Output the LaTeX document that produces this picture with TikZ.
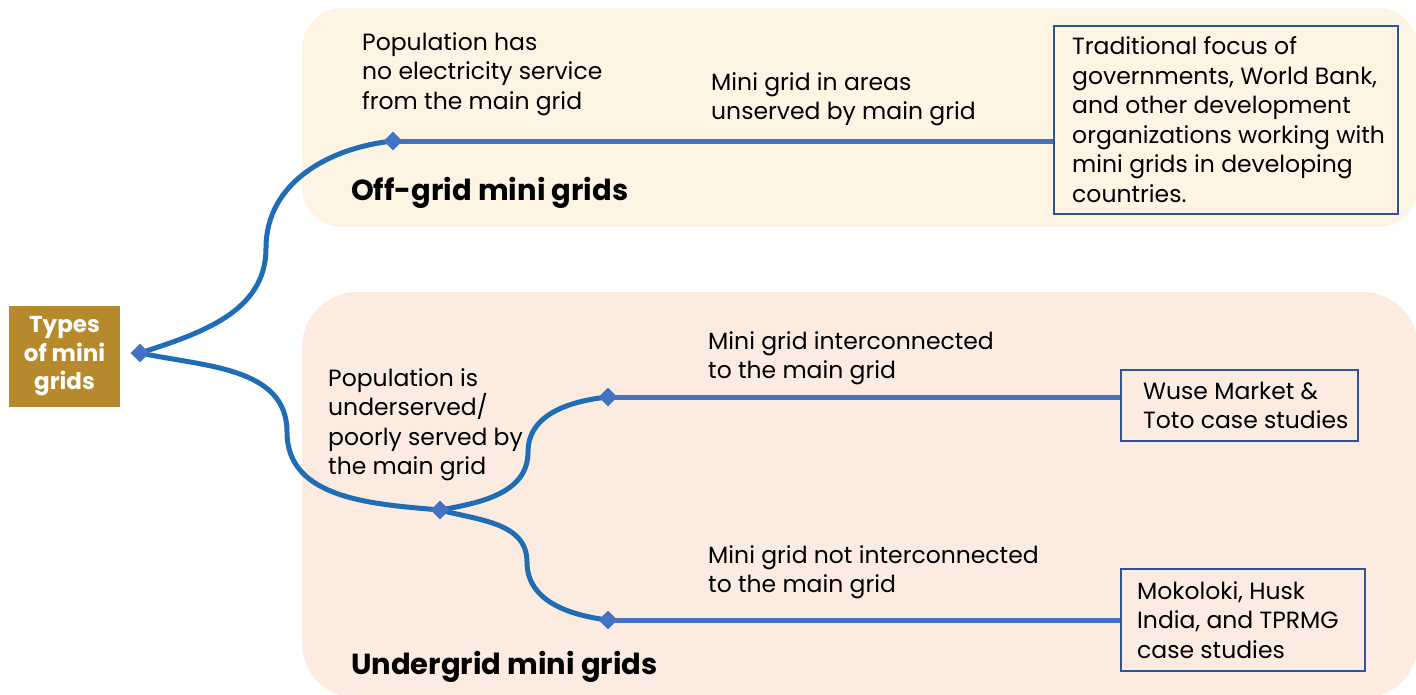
\documentclass[tikz,border=0pt]{standalone}
\usepackage{fontspec}
\setmainfont{Poppins}
\usetikzlibrary{shapes.geometric}
\definecolor{offbg}{RGB}{254,244,228}
\definecolor{underbg}{RGB}{251,235,225}
\definecolor{typesgold}{RGB}{182,138,44}
\definecolor{curveblue}{RGB}{31,110,181}
\definecolor{lineblue}{RGB}{68,114,196}
\definecolor{boxblue}{RGB}{47,85,151}

\begin{document}
\begin{tikzpicture}[x=1pt,y=-1pt,
  txt/.style={anchor=north west,align=left,inner sep=0,font=\fontsize{23.5}{29.5}\selectfont},
  head/.style={anchor=west,inner sep=0,font=\fontsize{29}{32}\selectfont\bfseries},
  casebox/.style={draw=boxblue,line width=1.6pt,anchor=north west,inner sep=0},
  dia/.style={diamond,fill=lineblue,inner sep=0,minimum size=19pt},
  branch/.style={curveblue,line width=5pt},
  stem/.style={lineblue,line width=5pt}]
\useasboundingbox (0,0) rectangle (1416,694);

% backgrounds
\fill[offbg,rounded corners=40] (302,8) rectangle (1418,227);
\fill[underbg,rounded corners=55] (302,292) rectangle (1418,698);

% root
\node[fill=typesgold,text=white,minimum width=111,minimum height=101,align=center,inner sep=0,
  font=\fontsize{23}{28.5}\selectfont\bfseries] (types) at (64.5,356.5) {Types\\of mini\\grids};

% case boxes
\node[casebox,minimum width=344,minimum height=188] (casea) at (1053,25) {};
\node[casebox,minimum width=237,minimum height=71] (caseb) at (1120,369) {};
\node[casebox,minimum width=244,minimum height=102] (casec) at (1120,568) {};
\node[txt,anchor=west] (casetxta) at ([xshift=19]casea.west)
  {Traditional focus of\\governments, World Bank,\\and other development\\organizations working with\\mini grids in developing\\countries.};
\node[txt,anchor=west] (casetxtb) at ([xshift=23]caseb.west) {Wuse Market \&\\Toto case studies};
\node[txt,anchor=west] (casetxtc) at ([xshift=17]casec.west) {Mokoloki, Husk\\India, and TPRMG\\case studies};

% branch points
\coordinate (rootpt) at (140,353);
\coordinate (offpt) at (393,141);
\coordinate (underpt) at (440,510);
\coordinate (interpt) at (608,397);
\coordinate (notpt) at (608,620);
\coordinate (offbend) at (266,248);
\coordinate (underbend) at (287,432);
\coordinate (interbend) at (528,452);
\coordinate (notbend) at (527,562);

\draw[stem] (offpt) -- (offpt -| casea.west);
\draw[stem] (interpt) -- (interpt -| caseb.west);
\draw[stem] (notpt) -- (notpt -| casec.west);

\draw[branch] (rootpt) to[out=18,in=-90] (offbend) to[out=90,in=186] (offpt);
\draw[branch] (rootpt) to[out=-12,in=90] (underbend) to[out=-90,in=175] (underpt);
\draw[branch] (underpt) to[out=10,in=-90] (interbend) to[out=90,in=186] (interpt);
\draw[branch] (underpt) to[out=-15,in=90] (notbend) to[out=-90,in=173] (notpt);

\node[dia] (rootd) at (rootpt) {};
\node[dia] (offd) at (offpt) {};
\node[dia] (underd) at (underpt) {};
\node[dia] (interd) at (interpt) {};
\node[dia] (notd) at (notpt) {};

% labels
\node[txt] (popa) at (362,32) {Population has\\no electricity service\\from the main grid};
\node[txt] (mga) at (711,72) {Mini grid in areas\\unserved by main grid};
\node[head] (offhead) at (351,193) {Off-grid mini grids};
\node[txt] (popb) at (328,368) {Population is\\underserved/\\poorly served by\\the main grid};
\node[txt] (mgb) at (708,331) {Mini grid interconnected\\to the main grid};
\node[txt] (mgc) at (708,545) {Mini grid not interconnected\\to the main grid};
\node[head] (underhead) at (351,667) {Undergrid mini grids};
\end{tikzpicture}
\end{document}
